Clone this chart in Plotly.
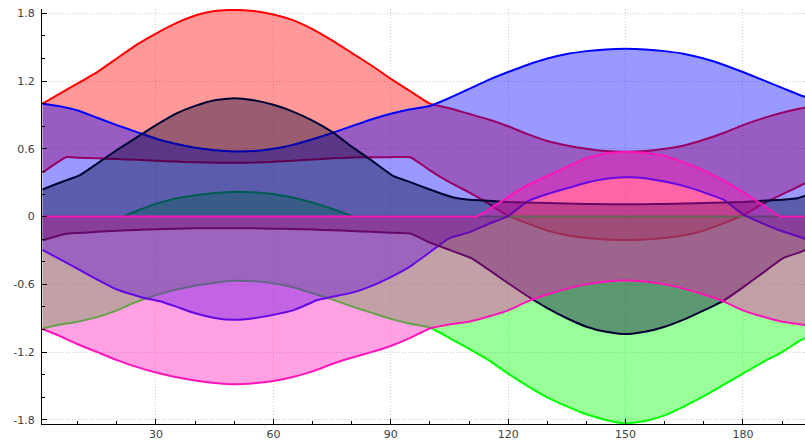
import plotly.graph_objects as go

# ---------------- data ----------------
x_common = [1, 5, 10, 15, 20, 25, 30, 35, 40, 45, 50, 55, 60, 65, 70, 75, 80, 85, 90, 95,
            100, 105, 110, 115, 120, 125, 130, 135, 140, 145, 150, 155, 160, 165, 170, 175,
            180, 185, 190, 195, 196]

# red band
red_upper = [1.00, 1.08, 1.18, 1.28, 1.40, 1.52, 1.62, 1.71, 1.78, 1.82, 1.83, 1.82, 1.79, 1.74,
             1.66, 1.56, 1.45, 1.34, 1.22, 1.11, 1.00, 0.96, 0.91, 0.86, 0.80, 0.73, 0.67, 0.63,
             0.60, 0.58, 0.575, 0.58, 0.60, 0.63, 0.68, 0.74, 0.81, 0.87, 0.92, 0.96, 0.965]
red_lower_x = [1, 7, 10, 15, 20, 25, 30, 35, 40, 45, 50, 55, 60, 65, 70, 75, 80, 85, 90, 95,
               100, 105, 110, 115, 120, 125, 130, 135, 140, 145, 150, 155, 160, 165, 170, 175,
               180, 185, 190, 195, 196]
red_lower = [0.39, 0.526, 0.522, 0.516, 0.51, 0.503, 0.495, 0.487, 0.481, 0.477, 0.476, 0.478,
             0.485, 0.495, 0.506, 0.516, 0.523, 0.526, 0.526, 0.526, 0.41, 0.305, 0.215, 0.115,
             0.005, -0.06, -0.124, -0.165, -0.19, -0.203, -0.206, -0.203, -0.19, -0.165,
             -0.124, -0.06, 0.01, 0.112, 0.196, 0.28, 0.295]

# green band
green_upper_x = [1, 21.5, 25, 30, 35, 40, 45, 50, 55, 60, 65, 70, 75, 80.5, 196]
green_upper = [0, 0, 0.05, 0.115, 0.16, 0.19, 0.21, 0.22, 0.215, 0.20, 0.17, 0.125, 0.07, 0, 0]
green_lower = [-0.99, -0.96, -0.93, -0.89, -0.83, -0.755, -0.695, -0.648, -0.612, -0.585, -0.568,
               -0.572, -0.59, -0.625, -0.678, -0.733, -0.795, -0.85, -0.905, -0.948, -0.982,
               -1.075, -1.17, -1.27, -1.39, -1.50, -1.60, -1.68, -1.75, -1.80, -1.83, -1.81,
               -1.76, -1.68, -1.59, -1.49, -1.39, -1.29, -1.20, -1.09, -1.075]

# blue band
blue_upper = [1.00, 0.98, 0.94, 0.875, 0.81, 0.75, 0.69, 0.645, 0.61, 0.588, 0.577, 0.58, 0.60,
              0.635, 0.685, 0.74, 0.80, 0.86, 0.91, 0.95, 0.98, 1.05, 1.13, 1.21, 1.28, 1.345,
              1.40, 1.44, 1.465, 1.48, 1.485, 1.48, 1.465, 1.44, 1.40, 1.345, 1.28, 1.21, 1.14,
              1.07, 1.06]
blue_lower_x = [1, 7.2, 10, 15, 20, 25, 27, 31, 35, 40, 45, 50, 55, 60, 65, 69.5, 71, 75, 80,
                85, 90, 95, 100, 105, 110, 115, 120, 125, 130, 135, 140, 145, 150, 155, 160,
                165, 170, 175, 180, 185, 190, 195, 196]
blue_lower = [-0.295, -0.41, -0.463, -0.557, -0.645, -0.70, -0.72, -0.75, -0.795, -0.856,
              -0.897, -0.914, -0.90, -0.87, -0.83, -0.765, -0.74, -0.71, -0.675, -0.615, -0.535,
              -0.44, -0.315, -0.19, -0.14, -0.065, 0.005, 0.135, 0.20, 0.25, 0.30, 0.335, 0.348,
              0.34, 0.31, 0.27, 0.215, 0.15, 0.02, -0.06, -0.13, -0.185, -0.2]

# navy band
navy_upper_x = [1, 5, 10.7, 15, 20, 25, 30, 35, 40, 45, 50, 55, 60, 65, 70, 75, 80, 85, 90.6,
                95, 100, 105, 107, 110, 115, 120, 125, 130, 135, 140, 145, 150, 155, 160, 165,
                170, 175, 180, 185, 190, 194, 196]
navy_upper = [0.24, 0.295, 0.37, 0.47, 0.59, 0.70, 0.81, 0.91, 0.98, 1.03, 1.048, 1.03, 0.99,
              0.93, 0.85, 0.75, 0.62, 0.50, 0.36, 0.305, 0.24, 0.18, 0.163, 0.15, 0.14, 0.13,
              0.125, 0.12, 0.115, 0.112, 0.11, 0.11, 0.11, 0.112, 0.115, 0.12, 0.125, 0.13,
              0.14, 0.15, 0.163, 0.186]
navy_lower_x = [1, 6.8, 10, 15, 20, 25, 30, 35, 40, 45, 50, 55, 60, 65, 70, 75, 80, 85, 90, 95,
                100, 105, 110.7, 115, 120, 125, 130, 135, 140, 145, 150, 155, 160, 165, 170,
                175, 180, 185, 190.3, 195, 196]
navy_lower = [-0.21, -0.153, -0.145, -0.135, -0.125, -0.118, -0.112, -0.107, -0.104, -0.103,
              -0.103, -0.104, -0.107, -0.11, -0.115, -0.12, -0.127, -0.135, -0.142, -0.15,
              -0.23, -0.295, -0.37, -0.47, -0.59, -0.705, -0.81, -0.90, -0.975, -1.02, -1.04,
              -1.02, -0.975, -0.91, -0.83, -0.745, -0.627, -0.50, -0.368, -0.31, -0.295]

# pink band
pink_upper_x = [1, 112, 115, 120, 125, 130, 135, 140, 145, 150, 155, 160, 165, 170, 175, 180,
                185, 189.5, 196]
pink_upper = [0, 0, 0.06, 0.175, 0.28, 0.36, 0.44, 0.52, 0.56, 0.575, 0.565, 0.54, 0.48, 0.41,
              0.32, 0.22, 0.105, 0, 0]
pink_lower = [-0.995, -1.05, -1.13, -1.20, -1.27, -1.33, -1.38, -1.42, -1.45, -1.472, -1.483,
              -1.475, -1.455, -1.42, -1.37, -1.305, -1.25, -1.20, -1.145, -1.074, -0.99, -0.955,
              -0.93, -0.885, -0.83, -0.75, -0.69, -0.64, -0.60, -0.575, -0.565, -0.575, -0.60,
              -0.64, -0.69, -0.75, -0.83, -0.885, -0.93, -0.955, -0.96]

x_ticks = [30, 60, 90, 120, 150, 180]
y_ticks = [-1.8, -1.2, -0.6, 0, 0.6, 1.2, 1.8]
y_tick_text = ["-1.8", "-1.2", "-0.6", "0", "0.6", "1.2", "1.8"]

# ---------------- figure ----------------
# (name, colour, upper x, upper y, lower x, lower y, upper smooth, lower smooth)
bands = [
    ("red", (255, 0, 0), x_common, red_upper, red_lower_x, red_lower, True, True),
    ("green", (0, 255, 0), green_upper_x, green_upper, x_common, green_lower, False, True),
    ("blue", (0, 0, 255), x_common, blue_upper, blue_lower_x, blue_lower, True, True),
    ("navy", (0, 0, 51), navy_upper_x, navy_upper, navy_lower_x, navy_lower, True, True),
    ("pink", (255, 20, 185), pink_upper_x, pink_upper, x_common, pink_lower, False, True),
]

fig = go.Figure()
for name, (r, g, b), ux, uy, lx, ly, us, ls in bands:
    fig.add_trace(go.Scatter(
        x=list(ux) + list(lx)[::-1], y=list(uy) + list(ly)[::-1],
        mode="lines", fill="toself", fillcolor=f"rgba({r},{g},{b},0.4)",
        line=dict(width=0), hoverinfo="skip", showlegend=False, name=name))
    for xs, ys, smooth in ((ux, uy, us), (lx, ly, ls)):
        line = dict(color=f"rgb({r},{g},{b})", width=2)
        if smooth:
            line.update(shape="spline", smoothing=0.4)
        fig.add_trace(go.Scatter(
            x=xs, y=ys, mode="lines", line=line,
            hoverinfo="skip", showlegend=False, name=name))

font = dict(family="DejaVu Sans", size=11, color="#404040")
grid = dict(showgrid=True, gridcolor="#cccccc", griddash="1px,2px", gridwidth=1)
fig.update_layout(
    width=805, height=444,
    margin=dict(l=42, r=0, t=9, b=20),
    paper_bgcolor="white", plot_bgcolor="white",
    showlegend=False, font=font,
    xaxis=dict(range=[0.87, 195.86], tickvals=x_ticks, ticks="inside", ticklen=5,
               tickcolor="black", showline=True, linecolor="black", linewidth=1,
               zeroline=False, tickfont=font, automargin=False, **grid,
               minor=dict(dtick=10, tick0=0, ticks="inside", ticklen=3, tickcolor="black",
                          showgrid=False)),
    yaxis=dict(range=[-1.836, 1.838], tickvals=y_ticks, ticktext=y_tick_text,
               ticks="inside", ticklen=5, tickcolor="black", showline=True,
               linecolor="black", linewidth=1, zeroline=False, tickfont=font,
               automargin=False, ticklabelstandoff=4, **grid,
               minor=dict(dtick=0.2, tick0=0, ticks="inside", ticklen=3, tickcolor="black",
                          showgrid=False)),
)

fig.write_html("out.html", config={"displayModeBar": False},
               post_script="document.body.style.margin='0';")
